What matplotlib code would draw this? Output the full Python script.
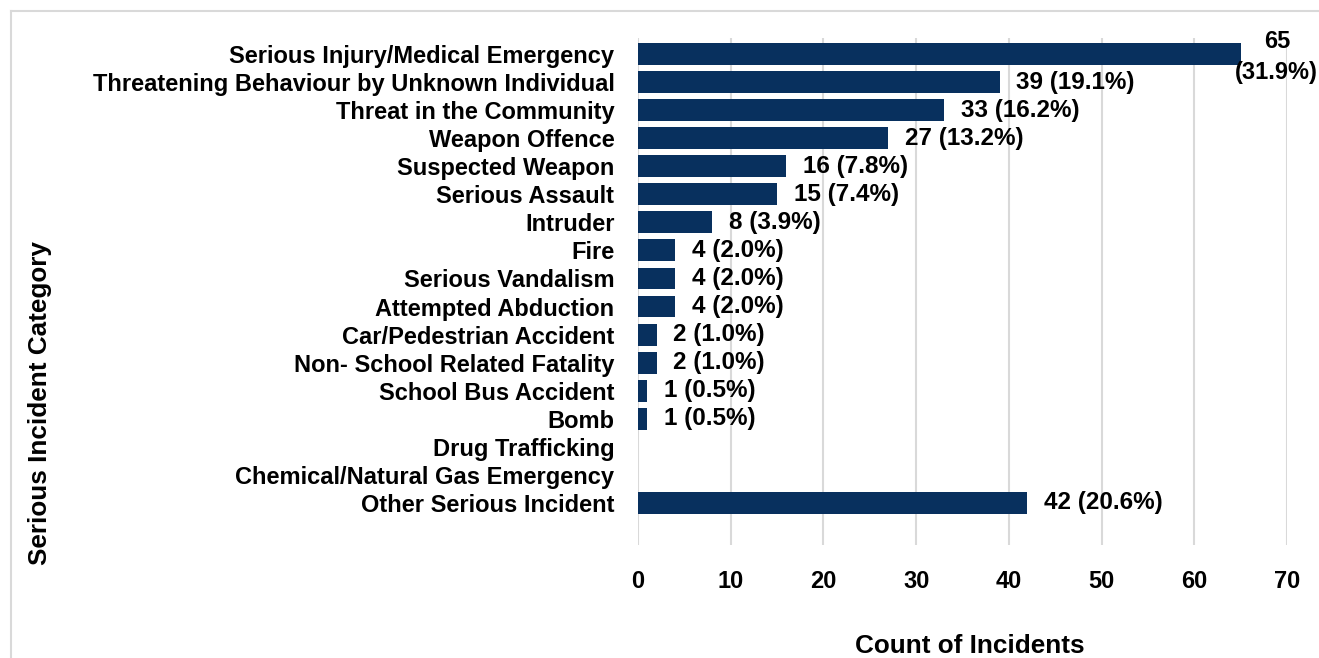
import matplotlib
matplotlib.use("Agg")
import matplotlib.pyplot as plt
from matplotlib.lines import Line2D

plt.rcParams['font.family'] = ['Liberation Sans', 'DejaVu Sans']
plt.rcParams['font.weight'] = 'bold'

categories = [
    "Serious Injury/Medical Emergency",
    "Threatening Behaviour by Unknown Individual",
    "Threat in the Community",
    "Weapon Offence",
    "Suspected Weapon",
    "Serious Assault",
    "Intruder",
    "Fire",
    "Serious Vandalism",
    "Attempted Abduction",
    "Car/Pedestrian Accident",
    "Non- School Related Fatality",
    "School Bus Accident",
    "Bomb",
    "Drug Trafficking",
    "Chemical/Natural Gas Emergency",
    "Other Serious Incident",
]
counts = [65, 39, 33, 27, 16, 15, 8, 4, 4, 4, 2, 2, 1, 1, 0, 0, 42]
percents = [31.9, 19.1, 16.2, 13.2, 7.8, 7.4, 3.9, 2.0, 2.0, 2.0, 1.0, 1.0, 0.5, 0.5, None, None, 20.6]
xticks = [0, 10, 20, 30, 40, 50, 60, 70]

BAR = '#08305E'
GRID = '#D9D9D9'
FS = 17
VFS = 17.5
TFS = 18.8

fig = plt.figure(figsize=(13.19, 6.58), dpi=100)
ax = fig.add_axes([638/1319, 1-545/658, (1287-638)/1319, (545-38)/658])

ypos = list(range(len(categories)))
ax.barh(ypos, counts, height=0.78, color=BAR, zorder=3)
ax.set_xlim(0, 70)
ax.set_ylim(17.5, -0.57)
ax.set_xticks(xticks)
ax.set_xticklabels([str(t) for t in xticks], fontsize=FS, fontweight='bold')
ax.set_yticks(ypos)
ax.set_yticklabels(categories, fontsize=FS, fontweight='bold')
ax.tick_params(axis='both', length=0)
ax.tick_params(axis='x', pad=18)
ax.tick_params(axis='y', pad=17)
ax.grid(axis='x', color=GRID, linewidth=1.5, zorder=0)
for s in ax.spines.values():
    s.set_visible(False)

for y, c, p in zip(ypos, counts, percents):
    if p is None or c == 0:
        continue
    if c == max(counts):
        ax.annotate(f"{c}\n({p:.1f}%)", xy=(c, y), xytext=(26, -2), textcoords='offset points',
                    ha='center', va='center', fontsize=VFS - 0.5, fontweight='bold',
                    linespacing=1.45, annotation_clip=False)
    else:
        ax.annotate(f"{c} ({p:.1f}%)", xy=(c, y), xytext=(12, 0), textcoords='offset points',
                    ha='left', va='center', fontsize=VFS, fontweight='bold')

fig.text(970/1319, 1-646/658, "Count of Incidents", ha='center', va='center',
         fontsize=TFS, fontweight='bold')
fig.text(40/1319, 1-403/658, "Serious Incident Category", ha='center', va='center',
         rotation=90, fontsize=TFS, fontweight='bold')

# chart-area border (top and left visible)
fig.add_artist(Line2D([11/1319, 1.0], [1-11/658, 1-11/658], color=GRID, lw=1.5, transform=fig.transFigure))
fig.add_artist(Line2D([11/1319, 11/1319], [1-11/658, 0.0], color=GRID, lw=1.5, transform=fig.transFigure))

fig.savefig("out.png", dpi=100)
